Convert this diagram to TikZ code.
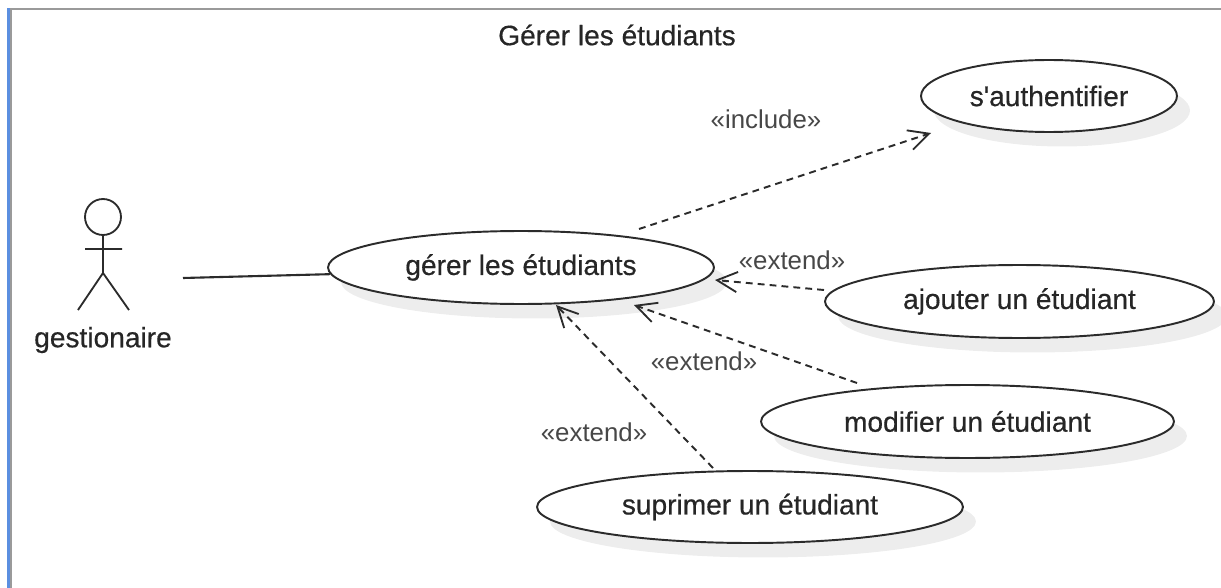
\documentclass[tikz,border=0pt]{standalone}
\usepackage{fontspec}
\setmainfont{Liberation Sans}
\newfontfamily\ucfont[FakeBold=0.5]{Liberation Sans}
\usetikzlibrary{arrows.meta,shadows,shapes.geometric}
\definecolor{framegray}{HTML}{9A9A9A}
\definecolor{frameblue}{HTML}{5B8FE0}
\definecolor{linegray}{HTML}{2B2B2B}
\begin{document}
\begin{tikzpicture}[x=0.02cm,y=-0.02cm]
	\tikzset{
		uc/.style={draw=linegray,line width=1.1pt,ellipse,inner sep=0pt,fill=white,text=black!85,font=\ucfont\fontsize{16}{18}\selectfont,drop shadow={shadow xshift=0.26cm,shadow yshift=-0.29cm,fill=black!7,opacity=1}},
		lbl/.style={text=black!72,inner sep=0pt,font=\fontsize{14.7}{16}\selectfont},
		dep/.style={draw=linegray,line width=1.1pt,dash pattern=on 3.9pt off 2.9pt,-{Straight Barb[length=11.5pt,width=11.5pt,line width=1.05pt]}},
		stick/.style={draw=linegray,line width=1.05pt}}
	\useasboundingbox(0,0)rectangle(1221,588);
	\fill[framegray](10,8)rectangle(1221,10.5);
	\fill[framegray](10,8)rectangle(12,588);
	\fill[frameblue](7,8)rectangle(10,588);
	\node[text=black!85,inner sep=0pt,font=\ucfont\fontsize{16}{18}\selectfont](title) at (617,35){Gérer les étudiants};
	% cas
	\node[uc,minimum width=7.72cm,minimum height=1.46cm](gerer) at (521,267.5){gérer les étudiants};
	\node[uc,minimum width=5.12cm,minimum height=1.44cm](auth) at (1049,96){s\textquotesingle authentifier};
	\node[uc,minimum width=7.78cm,minimum height=1.46cm](ajout) at (1019.5,301.5){ajouter un étudiant};
	\node[uc,minimum width=8.26cm,minimum height=1.46cm](modif) at (967.5,421.5){modifier un étudiant};
	\node[uc,minimum width=8.52cm,minimum height=1.44cm](supr) at (750,507){suprimer un étudiant};
	% acteur
	\node[stick,circle,minimum size=0.72cm,inner sep=0pt](head) at (103,217){};
	\coordinate(hip) at (103,273);
	\coordinate(armL) at (85,249);
	\coordinate(armR) at (122,249);
	\coordinate(legL) at (78,310);
	\coordinate(legR) at (129,310);
	\node[text=black!85,inner sep=0pt,font=\ucfont\fontsize{16}{18}\selectfont](actor) at (103,340){gestionaire};
	\draw[stick](head.south)--(hip)--(legL)(hip)--(legR)(armL)--(armR);
	\coordinate(assoc) at (183,278);
	\draw[stick,line width=1.2pt](assoc)--(gerer.182.5);
	% dependances
	\coordinate(incS) at (639,229);
	\coordinate(incT) at (931,133);
	\coordinate(ajoS) at (824,290);
	\coordinate(ajoT) at (715,280);
	\coordinate(modS) at (857,383);
	\coordinate(modT) at (634,305);
	\coordinate(supS) at (713,468);
	\coordinate(supT) at (556,305);
	\foreach \x/\y in {
		incS/incT,
		ajoS/ajoT,
		modS/modT,
		supS/supT}
	\draw[dep](\x)--(\y);
	\node[lbl](l1) at (766,119){«include»};
	\node[lbl](l2) at (792,260){«extend»};
	\node[lbl](l3) at (704,361){«extend»};
	\node[lbl](l4) at (594,432){«extend»};
\end{tikzpicture}
\end{document}
